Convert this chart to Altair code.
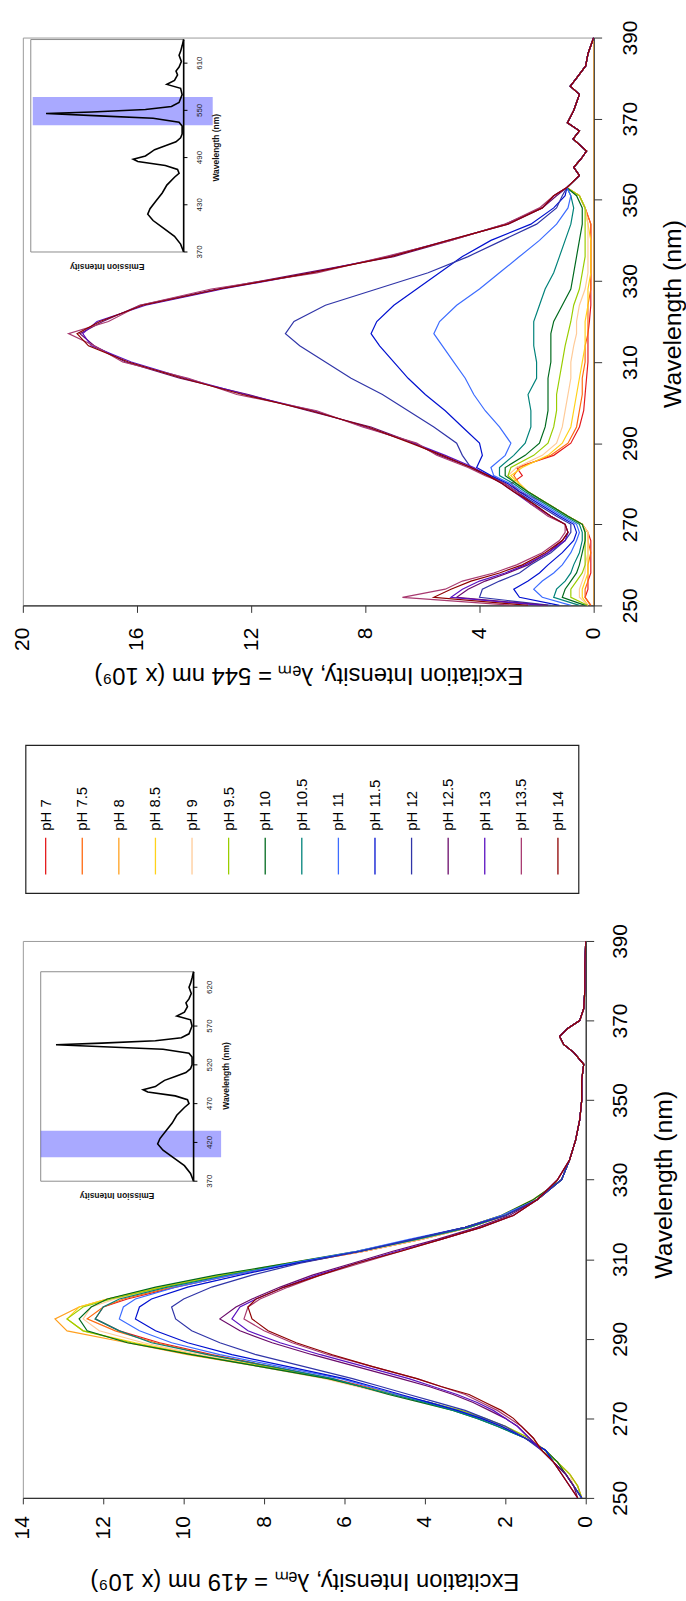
import altair as alt
import pandas as pd

FONT = "Liberation Sans"

PH_LABELS = ["pH 7", "pH 7.5", "pH 8", "pH 8.5", "pH 9", "pH 9.5", "pH 10", "pH 10.5",
             "pH 11", "pH 11.5", "pH 12", "pH 12.5", "pH 13", "pH 13.5", "pH 14"]
PH_COLORS = ["#E41A1C", "#FF6A10", "#FFA020", "#FFD21A", "#FFCB98", "#9ACD00", "#006A1E", "#00827A",
             "#3C6CFF", "#0010D0", "#3035A8", "#6A0A6A", "#5A10C0", "#A83A70", "#8E0000"]

WL_TICKS = [250, 270, 290, 310, 330, 350, 370, 390]
TOP_X_TICKS = [0, 4, 8, 12, 16, 20]
BOT_X_TICKS = [0, 2, 4, 6, 8, 10, 12, 14]

TOP_TITLE = "Excitation Intensity, λₑₘ = 544 nm (x 10⁹)"
BOT_TITLE = "Excitation Intensity, λₑₘ = 419 nm (x 10⁹)"

# ---------------- top panel (emission 544 nm) ----------------
TOP_WL = [250, 252, 254, 256, 258, 260, 263, 266, 268, 270, 272, 275, 278, 280, 282, 284, 287,
          290, 294, 298, 302, 306, 310, 314, 317, 320, 324, 328, 332, 336, 340, 344, 348, 351]
TOP_TAIL_WL = [353, 356, 358, 360, 362, 365, 367, 369, 372, 374, 376, 378, 380, 383, 386, 390]
TOP_TAIL = [0.94, 0.5, 0.7, 0.45, 0.25, 0.72, 0.5, 0.92, 0.7, 0.6, 0.5, 0.82, 0.6, 0.28, 0.2, 0.0]

TOP_PH7 = [0.1, 0.3, 0.2, 0.2, 0.1, 0.1, 0.1, 0.1, 0.2, 0.4, 0.9, 1.6, 2.6, 2.9, 2.5, 2.7, 1.4,
           0.8, 0.5, 0.35, 0.3, 0.25, 0.2, 0.2, 0.2, 0.15, 0.1, 0.1, 0.1, 0.1, 0.1, 0.1, 0.3, 0.5]
TOP_PH75 = [0.1, 0.3, 0.3, 0.2, 0.2, 0.2, 0.1, 0.2, 0.2, 0.4, 0.9, 1.6, 2.3, 2.6, 2.8, 2.6, 1.5,
            0.9, 0.6, 0.5, 0.4, 0.4, 0.3, 0.3, 0.2, 0.2, 0.2, 0.1, 0.1, 0.1, 0.1, 0.1, 0.3, 0.5]
TOP_PH8_WL = [250, 390]
TOP_PH8 = [0.0, 0.0]
TOP_PH85 = [0.2, 0.4, 0.4, 0.3, 0.2, 0.2, 0.2, 0.2, 0.2, 0.4, 0.9, 1.6, 2.3, 2.6, 2.9, 2.5, 1.6,
            1.1, 0.8, 0.7, 0.6, 0.5, 0.4, 0.3, 0.3, 0.3, 0.2, 0.2, 0.1, 0.1, 0.1, 0.2, 0.3, 0.5]
TOP_PH9 = [0.2, 0.5, 0.5, 0.4, 0.3, 0.3, 0.2, 0.2, 0.2, 0.4, 0.9, 1.6, 2.3, 2.7, 3.0, 2.7, 1.8,
           1.3, 1.1, 1.0, 0.9, 0.8, 0.8, 0.7, 0.6, 0.6, 0.5, 0.3, 0.2, 0.2, 0.2, 0.2, 0.3, 0.5]
TOP_PH95 = [0.2, 0.8, 0.8, 0.6, 0.4, 0.3, 0.3, 0.3, 0.3, 0.4, 0.9, 1.6, 2.3, 2.7, 3.0, 2.9, 2.1,
            1.6, 1.4, 1.3, 1.3, 1.2, 1.1, 1.0, 0.9, 0.8, 0.7, 0.5, 0.4, 0.3, 0.3, 0.3, 0.3, 0.5]
TOP_PH10 = [0.3, 1.1, 1.0, 0.8, 0.6, 0.5, 0.4, 0.3, 0.3, 0.4, 0.9, 1.6, 2.3, 2.7, 3.1, 3.1, 2.4,
            1.9, 1.7, 1.6, 1.6, 1.6, 1.5, 1.5, 1.5, 1.4, 1.1, 0.8, 0.7, 0.6, 0.5, 0.4, 0.4, 0.6]
TOP_PH105 = [0.5, 1.4, 1.3, 1.0, 0.8, 0.7, 0.5, 0.4, 0.4, 0.5, 1.0, 1.7, 2.4, 2.8, 3.3, 3.3, 2.8,
             2.4, 2.2, 2.2, 2.3, 2.0, 2.0, 2.1, 2.1, 2.1, 1.9, 1.7, 1.4, 1.2, 1.0, 0.8, 0.7, 0.8]
TOP_PH11 = [0.8, 1.8, 2.1, 1.8, 1.4, 1.1, 0.8, 0.6, 0.5, 0.6, 1.1, 1.8, 2.5, 2.9, 3.5, 3.6, 3.1,
            2.9, 3.3, 3.8, 4.2, 4.5, 4.9, 5.3, 5.6, 5.4, 4.8, 4.0, 3.3, 2.6, 1.9, 1.3, 0.9, 0.8]
TOP_PH115 = [1.2, 2.6, 2.8, 2.3, 1.9, 1.6, 1.1, 0.7, 0.6, 0.7, 1.2, 1.9, 2.6, 3.0, 3.6, 4.1, 3.9,
             4.0, 4.6, 5.2, 5.9, 6.5, 7.0, 7.5, 7.8, 7.6, 7.0, 6.2, 5.4, 4.6, 3.6, 2.2, 1.4, 1.0]
TOP_PH12 = [1.5, 4.0, 3.9, 3.3, 2.6, 2.2, 1.5, 1.0, 0.8, 0.8, 1.3, 2.0, 2.7, 3.1, 3.7, 4.3, 4.6,
            4.8, 5.6, 6.5, 7.4, 8.5, 9.4, 10.3, 10.8, 10.5, 9.4, 7.6, 5.8, 4.4, 3.2, 2.0, 1.3, 1.1]
TOP_PH125 = [1.6, 4.8, 4.4, 3.8, 3.0, 2.3, 1.6, 1.1, 0.9, 1.0, 1.5, 2.1, 2.7, 3.1, 3.7, 4.3, 5.4,
             6.3, 7.8, 10.0, 12.1, 14.5, 16.4, 17.5, 18.0, 17.2, 15.9, 13.2, 10.1, 7.0, 5.0, 3.1, 1.8, 1.3]
TOP_PH13 = [1.8, 5.0, 4.6, 4.0, 3.1, 2.4, 1.6, 1.0, 0.9, 1.0, 1.5, 2.2, 2.8, 3.2, 3.7, 4.2, 5.2,
            6.3, 8.0, 9.8, 12.2, 14.3, 16.2, 17.6, 17.9, 17.4, 15.7, 13.0, 9.9, 7.2, 5.1, 3.0, 1.8, 1.4]
TOP_PH135 = [2.8, 6.7, 5.2, 4.6, 3.5, 2.7, 1.8, 1.2, 1.0, 1.0, 1.6, 2.2, 2.7, 3.1, 3.8, 4.4, 5.5,
             6.2, 8.1, 9.7, 12.5, 14.2, 16.5, 17.5, 18.4, 17.0, 15.9, 13.4, 9.7, 7.3, 5.0, 3.1, 1.9, 1.4]
TOP_PH14 = [2.3, 5.6, 5.0, 4.3, 3.3, 2.5, 1.7, 1.1, 0.9, 1.0, 1.5, 2.1, 2.8, 3.2, 3.7, 4.3, 5.3,
            6.4, 7.9, 9.9, 12.3, 14.4, 16.3, 17.7, 18.1, 17.3, 15.8, 13.1, 9.9, 7.1, 5.1, 3.0, 1.8, 1.4]

# ---------------- bottom panel (emission 419 nm) ----------------
BOT_WL = [250, 253, 256, 259, 262, 265, 268, 270, 272, 274, 276, 278, 280, 283, 286, 289, 292,
          295, 298, 300, 303, 306, 309, 312, 315, 318, 321, 325, 330, 335]
BOT_TAIL_WL = [340, 345, 350, 355, 359, 362, 364, 366, 368, 370, 373, 378, 384, 390]
BOT_TAIL = [0.25, 0.15, 0.1, 0.1, 0.05, 0.3, 0.55, 0.65, 0.45, 0.15, 0.05, 0.02, 0.02, 0.0]

BOT_PH7 = [0.1, 0.3, 0.5, 0.7, 1.0, 1.5, 2.1, 2.6, 3.2, 3.9, 4.7, 5.5, 6.3, 7.8, 9.3, 10.6, 11.6,
           12.2, 12.0, 11.4, 10.2, 8.8, 7.2, 5.5, 4.1, 2.9, 2.0, 1.2, 0.6, 0.4]
BOT_PH75 = [0.1, 0.2, 0.4, 0.7, 1.0, 1.5, 2.1, 2.6, 3.2, 4.0, 4.8, 5.6, 6.4, 7.9, 9.4, 10.7, 11.7,
            12.4, 12.0, 11.5, 10.3, 8.9, 7.2, 5.5, 4.1, 2.9, 2.0, 1.2, 0.6, 0.4]
BOT_PH8 = [0.1, 0.2, 0.4, 0.7, 1.0, 1.5, 2.1, 2.6, 3.2, 4.0, 4.8, 5.6, 6.4, 8.1, 9.9, 11.4, 12.9,
           13.2, 12.6, 11.9, 10.5, 9.0, 7.3, 5.6, 4.2, 3.0, 2.1, 1.3, 0.6, 0.4]
BOT_PH85 = [0.1, 0.3, 0.5, 0.7, 1.0, 1.4, 2.0, 2.6, 3.2, 4.0, 4.7, 5.6, 6.4, 8.0, 9.7, 11.2, 12.5,
            12.9, 12.6, 11.9, 10.6, 9.1, 7.4, 5.6, 4.2, 3.0, 2.1, 1.3, 0.6, 0.4]
BOT_PH9 = [0.1, 0.3, 0.4, 0.7, 1.0, 1.5, 2.1, 2.7, 3.3, 4.1, 4.9, 5.7, 6.5, 8.1, 9.6, 11.0, 12.1,
           12.5, 12.3, 11.7, 10.4, 8.9, 7.3, 5.5, 4.1, 2.9, 2.0, 1.2, 0.6, 0.4]
BOT_PH95 = [0.1, 0.2, 0.4, 0.7, 1.1, 1.4, 2.0, 2.5, 3.1, 3.9, 4.8, 5.6, 6.4, 8.0, 9.8, 11.3, 12.5,
            12.9, 12.5, 11.8, 10.5, 9.0, 7.3, 5.6, 4.2, 2.9, 2.0, 1.2, 0.6, 0.4]
BOT_PH10 = [0.1, 0.3, 0.5, 0.7, 1.0, 1.5, 2.2, 2.7, 3.3, 4.1, 4.9, 5.6, 6.4, 8.1, 9.8, 11.4, 12.4,
            12.6, 12.3, 11.9, 10.7, 9.2, 7.4, 5.7, 4.3, 3.0, 2.1, 1.3, 0.6, 0.4]
BOT_PH105 = [0.1, 0.3, 0.5, 0.8, 1.0, 1.5, 2.2, 2.7, 3.3, 4.0, 4.8, 5.6, 6.3, 7.8, 9.4, 10.8, 11.6,
             12.2, 12.0, 11.6, 10.4, 8.9, 7.3, 5.6, 4.2, 2.9, 2.0, 1.2, 0.6, 0.4]
BOT_PH11 = [0.1, 0.3, 0.5, 0.8, 1.0, 1.5, 2.1, 2.6, 3.2, 3.9, 4.7, 5.4, 6.1, 7.6, 9.1, 10.3, 11.1,
            11.6, 11.5, 11.2, 10.2, 8.8, 7.3, 5.7, 4.4, 3.0, 2.1, 1.2, 0.6, 0.4]
BOT_PH115 = [0.1, 0.3, 0.5, 0.8, 1.0, 1.5, 2.1, 2.6, 3.2, 3.9, 4.6, 5.3, 6.0, 7.4, 8.8, 9.9, 10.7,
             11.2, 11.1, 10.8, 9.9, 8.6, 7.2, 5.6, 4.3, 3.0, 2.0, 1.2, 0.6, 0.4]
BOT_PH12 = [0.1, 0.3, 0.5, 0.8, 1.1, 1.5, 2.0, 2.5, 3.0, 3.7, 4.4, 5.1, 5.8, 7.0, 8.2, 9.1, 9.8,
            10.2, 10.3, 10.0, 9.3, 8.3, 7.1, 5.6, 4.3, 3.0, 2.0, 1.2, 0.6, 0.4]
BOT_PH125 = [0.2, 0.3, 0.5, 0.8, 1.1, 1.4, 1.7, 2.0, 2.4, 2.8, 3.3, 3.9, 4.6, 5.7, 6.8, 7.8, 8.6,
             9.1, 8.7, 8.3, 7.6, 6.8, 5.8, 4.8, 3.7, 2.7, 1.9, 1.2, 0.7, 0.4]
BOT_PH13 = [0.2, 0.4, 0.6, 0.8, 1.1, 1.4, 1.7, 2.0, 2.3, 2.7, 3.2, 3.8, 4.4, 5.5, 6.6, 7.6, 8.4,
            8.8, 8.6, 8.2, 7.5, 6.7, 5.7, 4.7, 3.6, 2.6, 1.8, 1.2, 0.7, 0.4]
BOT_PH135 = [0.2, 0.4, 0.6, 0.8, 1.1, 1.3, 1.6, 1.9, 2.2, 2.6, 3.0, 3.6, 4.2, 5.3, 6.4, 7.3, 8.0,
             8.5, 8.4, 8.1, 7.4, 6.6, 5.6, 4.6, 3.6, 2.6, 1.8, 1.2, 0.7, 0.4]
BOT_PH14 = [0.2, 0.4, 0.6, 0.8, 1.1, 1.3, 1.6, 1.8, 2.1, 2.5, 2.9, 3.6, 4.2, 5.3, 6.3, 7.2, 7.9,
            8.3, 8.4, 8.2, 7.5, 6.6, 5.7, 4.6, 3.6, 2.6, 1.8, 1.2, 0.7, 0.4]

# ---------------- inset emission spectrum ----------------
EM_WL = [370, 380, 390, 400, 410, 418, 425, 435, 445, 455, 465, 470, 475, 480, 485, 488, 492, 496,
         500, 505, 510, 515, 520, 530, 535, 540, 543, 546, 548, 551, 555, 560, 570, 578, 583, 588,
         595, 600, 605, 612, 620, 625, 632, 640]
EM_I = [0.0, 0.02, 0.06, 0.13, 0.2, 0.235, 0.22, 0.18, 0.14, 0.11, 0.06, 0.03, 0.04, 0.12, 0.3, 0.33,
        0.25, 0.22, 0.19, 0.12, 0.05, 0.02, 0.01, 0.01, 0.03, 0.2, 0.55, 0.9, 0.6, 0.25, 0.08, 0.03,
        0.01, 0.02, 0.11, 0.06, 0.04, 0.05, 0.03, 0.015, 0.03, 0.02, 0.01, 0.0]
TOP_INSET_TICKS = [370, 430, 490, 550, 610]
BOT_INSET_TICKS = [370, 420, 470, 520, 570, 620]
TOP_BAND = [531, 567]
BOT_BAND = [401, 435]

TOP_HEADS = [TOP_PH7, TOP_PH75, None, TOP_PH85, TOP_PH9, TOP_PH95, TOP_PH10, TOP_PH105,
             TOP_PH11, TOP_PH115, TOP_PH12, TOP_PH125, TOP_PH13, TOP_PH135, TOP_PH14]
BOT_HEADS = [BOT_PH7, BOT_PH75, BOT_PH8, BOT_PH85, BOT_PH9, BOT_PH95, BOT_PH10, BOT_PH105,
             BOT_PH11, BOT_PH115, BOT_PH12, BOT_PH125, BOT_PH13, BOT_PH135, BOT_PH14]


def build_top():
    series = {}
    for lab, head in zip(PH_LABELS, TOP_HEADS):
        if head is None:
            series[lab] = (TOP_PH8_WL, TOP_PH8)
        else:
            assert len(head) == len(TOP_WL), lab
            series[lab] = (TOP_WL + TOP_TAIL_WL, head + TOP_TAIL)
    return series


def build_bot():
    series = {}
    for lab, head in zip(PH_LABELS, BOT_HEADS):
        assert len(head) == len(BOT_WL), lab
        series[lab] = (BOT_WL + BOT_TAIL_WL, head + BOT_TAIL)
    return series


def panel(series, xmax, xticks, w, h, title, ax, ins):
    rows = []
    for lab in PH_LABELS:
        wls, vals = series[lab]
        for wl, v in zip(wls, vals):
            rows.append({"pH": lab, "wl": wl, "I": v})
    df = pd.DataFrame(rows)

    lines = alt.Chart(df).mark_line(strokeWidth=1.2, clip=True).encode(
        x=alt.X("I:Q",
                scale=alt.Scale(domain=[0, xmax], reverse=True, nice=False, zero=False),
                axis=alt.Axis(orient="bottom", values=xticks, format="d", labelAngle=270,
                              labelAlign="right", labelBaseline="middle", labelFontSize=21,
                              labelPadding=ax["xpad"], tickSize=ax["xtick"], labelFlush=False,
                              labelOverlap=False, grid=False, title=title, titleAngle=180,
                              titleFontSize=24, titleFontWeight="normal", titleX=w / 2,
                              titleY=ax["xty"], titleAlign="center", titleBaseline="middle")),
        y=alt.Y("wl:Q",
                scale=alt.Scale(domain=[250, 390], nice=False, zero=False),
                axis=alt.Axis(orient="right", values=WL_TICKS, format="d", labelAngle=270,
                              labelAlign="center", labelBaseline="top", labelFontSize=21,
                              labelPadding=ax["ypad"], tickSize=ax["ytick"], labelFlush=False,
                              labelOverlap=False, grid=False, title="Wavelength (nm)",
                              titleAngle=270, titleFontSize=25, titleFontWeight="normal",
                              titleX=ax["ytx"], titleY=ax["yty"], titleAlign="center",
                              titleBaseline="middle")),
        color=alt.Color("pH:N", scale=alt.Scale(domain=PH_LABELS, range=PH_COLORS), legend=None),
        order=alt.Order("wl:Q"),
    )

    xs = alt.Scale(domain=[0, 1], range=ins["xr"], nice=False, zero=False)
    ys = alt.Scale(domain=[370, 640], range=ins["yr"], nice=False, zero=False)

    box = alt.Chart(pd.DataFrame({"e0": [0.0], "e1": [1.0], "w0": [370], "w1": [640]})).mark_rect(
        fill="white", stroke="#8c8c8c", strokeWidth=1).encode(
        x=alt.X("e0:Q", scale=xs, axis=None), x2="e1:Q",
        y=alt.Y("w0:Q", scale=ys, axis=None), y2="w1:Q")

    band = alt.Chart(pd.DataFrame({"e0": [ins["band_e"][0]], "e1": [ins["band_e"][1]],
                                   "w0": [ins["band"][0]], "w1": [ins["band"][1]]})).mark_rect(
        color="#3333ff", opacity=0.42).encode(
        x=alt.X("e0:Q", scale=xs, axis=None), x2="e1:Q",
        y=alt.Y("w0:Q", scale=ys, axis=None), y2="w1:Q")

    em = alt.Chart(pd.DataFrame({"e": EM_I, "w": EM_WL})).mark_line(
        color="black", strokeWidth=1.6).encode(
        x=alt.X("e:Q", scale=xs, axis=None),
        y=alt.Y("w:Q", scale=ys, axis=None),
        order=alt.Order("w:Q"))

    base = alt.Chart(pd.DataFrame({"e": [0.0], "w0": [370], "w1": [640]})).mark_rule(
        color="black", strokeWidth=1.6).encode(
        x=alt.X("e:Q", scale=xs, axis=None),
        y=alt.Y("w0:Q", scale=ys, axis=None), y2="w1:Q")

    tdf = pd.DataFrame({"t": ins["ticks"], "e0": [0.0] * len(ins["ticks"]),
                        "e1": [-0.025] * len(ins["ticks"])})
    ticks = alt.Chart(tdf).mark_rule(color="black", strokeWidth=1).encode(
        x=alt.X("e0:Q", scale=xs, axis=None), x2="e1:Q",
        y=alt.Y("t:Q", scale=ys, axis=None))
    tlabels = alt.Chart(tdf).mark_text(angle=270, align="center", baseline="middle",
                                       fontSize=8, font=FONT, color="#222").encode(
        x=alt.value(ins["lx"]),
        y=alt.Y("t:Q", scale=ys, axis=None),
        text=alt.Text("t:Q", format="d"))

    wtitle = alt.Chart(pd.DataFrame({"s": ["Wavelength (nm)"]})).mark_text(
        angle=270, align="center", baseline="middle", fontSize=8.5, fontWeight="bold",
        font=FONT, color="#111").encode(
        text="s:N", x=alt.value(ins["wt"][0]), y=alt.value(ins["wt"][1]))
    etitle = alt.Chart(pd.DataFrame({"s": ["Emission Intensity"]})).mark_text(
        angle=180, align="center", baseline="middle", fontSize=8.5, fontWeight="bold",
        font=FONT, color="#111").encode(
        text="s:N", x=alt.value(ins["et"][0]), y=alt.value(ins["et"][1]))

    return alt.layer(lines, box, band, em, base, ticks, tlabels, wtitle, etitle).resolve_scale(
        x="independent", y="independent").properties(width=w, height=h)


top = panel(build_top(), 20, TOP_X_TICKS, 575, 572, TOP_TITLE,
            {"xpad": 15, "xtick": 7, "xty": 70, "ypad": 18, "ytick": 8, "ytx": 79, "yty": 278},
            {"xr": [162, 8], "yr": [216, 2], "band_e": [0.987, -0.19], "band": TOP_BAND,
             "ticks": TOP_INSET_TICKS, "lx": 178, "wt": [195, 111], "et": [85, 231]})

bottom = panel(build_bot(), 14, BOT_X_TICKS, 567, 561, BOT_TITLE,
               {"xpad": 12, "xtick": 6, "xty": 83, "ypad": 16, "ytick": 8, "ytx": 78, "yty": 245},
               {"xr": [172, 18], "yr": [242, 31], "band_e": [1.0, -0.18], "band": BOT_BAND,
                "ticks": BOT_INSET_TICKS, "lx": 189, "wt": [205, 136], "et": [95, 257]})

# legend: drawn in a spacer view between the panels (box at 141..290 px)
leg_df = pd.DataFrame({"pH": PH_LABELS})
lx = alt.X("pH:N", scale=alt.Scale(type="point", domain=PH_LABELS, range=[23, 539], padding=0),
           axis=None)
leg_box = alt.Chart(pd.DataFrame({"k": [0]})).mark_rect(
    fill="white", stroke="#222222", strokeWidth=1.2).encode(
    x=alt.value(3), x2=alt.value(560), y=alt.value(141), y2=alt.value(290))
leg_rules = alt.Chart(leg_df).mark_rule(strokeWidth=1.3).encode(
    x=lx, y=alt.value(234), y2=alt.value(271),
    color=alt.Color("pH:N", scale=alt.Scale(domain=PH_LABELS, range=PH_COLORS), legend=None))
leg_text = alt.Chart(leg_df).mark_text(angle=270, align="left", baseline="middle", fontSize=15,
                                       font=FONT, color="black").encode(
    x=lx, y=alt.value(227), text="pH:N")
legend = alt.layer(leg_box, leg_rules, leg_text).properties(
    width=560, height=338, view=alt.ViewBackground(stroke="transparent"))

chart = alt.vconcat(top, legend, bottom, spacing=0, bounds="flush").properties(
    padding={"left": 11, "top": 13, "right": 0, "bottom": 0}
).configure(font=FONT).configure_view(stroke="#9a9a9a", strokeWidth=1).configure_axis(
    labelFont=FONT, titleFont=FONT, domainColor="#333333", tickColor="#333333",
    labelColor="black", titleColor="black", domainWidth=1.3)

chart.save("out.html", embed_options={"renderer": "svg", "actions": False})
